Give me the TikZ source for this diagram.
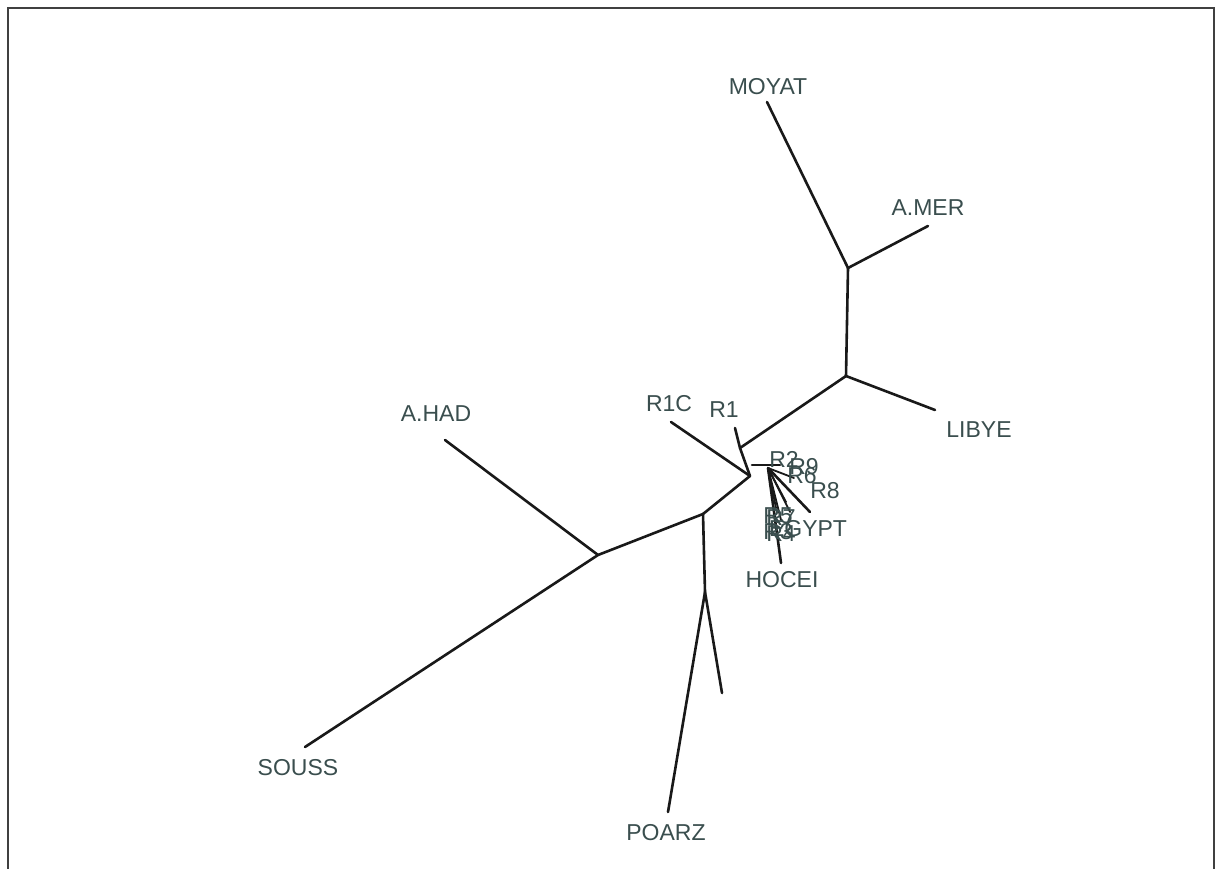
\documentclass[tikz,border=0pt]{standalone}
\usepackage{fontspec}
\setmainfont{Liberation Sans}
\definecolor{labelgray}{RGB}{58,78,78}
\begin{document}
\begin{tikzpicture}[x=1pt,y=-1pt,
  branch/.style={line width=2.6pt,black!90,line cap=round},
  twig/.style={line width=1.8pt,black!90,line cap=round},
  taxon/.style={font=\fontsize{23}{23}\selectfont,text=labelgray,inner sep=0pt},
  frameline/.style={line width=1.8pt,black!75}]
\useasboundingbox (0,0) rectangle (1222,869);
\fill[white] (0,0) rectangle (1222,869);
\draw[frameline] (8,869) -- (8,8) -- (1214,8) -- (1214,869);
% internal nodes
\coordinate (n1) at (848,268);
\coordinate (n2) at (846,376);
\coordinate (n3) at (740,448);
\coordinate (n4) at (752,465);
\coordinate (n5) at (750,476);
\coordinate (n6) at (703,514);
\coordinate (n7) at (598,555);
\coordinate (n8) at (705,592);
\coordinate (n9) at (768,468);
% tips
\coordinate (tMOYAT) at (767,102);
\coordinate (tAMER) at (928,226);
\coordinate (tLIBYE) at (935,410);
\coordinate (tR1) at (735,428);
\coordinate (tR1C) at (671,422);
\coordinate (tAHAD) at (445,440);
\coordinate (tSOUSS) at (305,747);
\coordinate (tPOARZ) at (668,812);
\coordinate (tX) at (722,693);
\coordinate (tR2) at (780,465);
\coordinate (tEGYPT) at (810,512);
\coordinate (tHOCEI) at (781,563);
\coordinate (ta) at (786,502);
\coordinate (tb) at (776,508);
\coordinate (tc) at (790,512);
\coordinate (td) at (781,520);
\coordinate (te) at (794,478);
% branches
\draw[branch] (tMOYAT) -- (n1);
\draw[branch] (tAMER) -- (n1);
\draw[branch] (n1) -- (n2);
\draw[branch] (tLIBYE) -- (n2);
\draw[branch] (n2) -- (n3);
\draw[branch] (tR1) -- (n3);
\draw[branch] (n3) -- (n5);
\draw[branch] (tR1C) -- (n5);
\draw[branch] (n4) -- (tR2);
\draw[branch] (n5) -- (n6);
\draw[branch] (n6) -- (n7);
\draw[branch] (tAHAD) -- (n7);
\draw[branch] (tSOUSS) -- (n7);
\draw[branch] (n6) -- (n8);
\draw[branch] (n8) -- (tPOARZ);
\draw[branch] (n8) -- (tX);
\draw[branch] (n9) -- (tEGYPT);
\draw[branch] (n9) -- (tHOCEI);
\draw[twig] (n9) -- (ta);
\draw[twig] (n9) -- (tb);
\draw[twig] (n9) -- (tc);
\draw[twig] (n9) -- (td);
\draw[twig] (n9) -- (te);
% labels
\node[taxon] (lMOYAT) at (768,87) {MOYAT};
\node[taxon] (lAMER) at (928,208) {A.MER};
\node[taxon] (lLIBYE) at (979,430) {LIBYE};
\node[taxon] (lR1) at (724,410) {R1};
\node[taxon] (lR1C) at (669,404) {R1C};
\node[taxon] (lAHAD) at (436,414) {A.HAD};
\node[taxon] (lSOUSS) at (298,768) {SOUSS};
\node[taxon] (lPOARZ) at (666,833) {POARZ};
\node[taxon] (lHOCEI) at (782,580) {HOCEI};
\node[taxon] (lR2) at (784,459) {R2};
\node[taxon] (lR9) at (804,467) {R9};
\node[taxon] (lR6) at (802,476) {R6};
\node[taxon] (lR8) at (825,491) {R8};
\node[taxon] (lEGYPT) at (808,529) {EGYPT};
\node[taxon] (lR5) at (778,516) {R5};
\node[taxon] (lR7) at (781,518) {R7};
\node[taxon] (lR3) at (778,532) {R3};
\node[taxon] (lR4) at (781,534) {R4};
\end{tikzpicture}
\end{document}
